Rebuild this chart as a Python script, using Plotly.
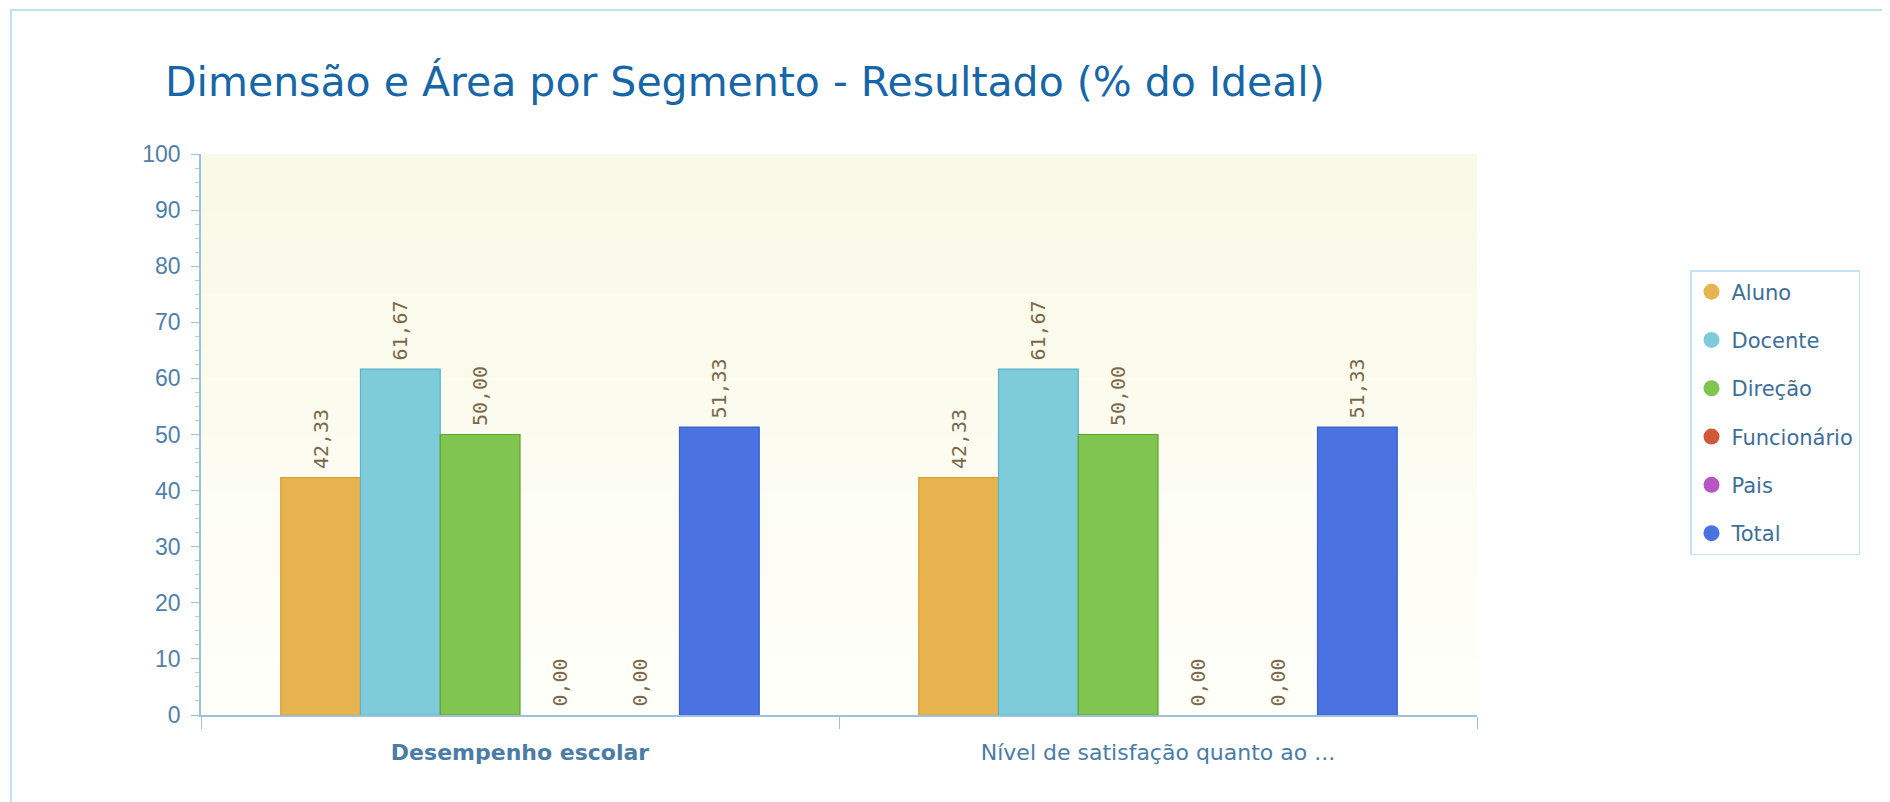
import plotly.graph_objects as go

categories = ["Desempenho escolar", "Nível de satisfação quanto ao ..."]
tick_labels = ["<b>Desempenho escolar</b>", "Nível de satisfação quanto ao ..."]
series_names = ["Aluno", "Docente", "Direção", "Funcionário", "Pais", "Total"]
aluno = [42.33, 42.33]
docente = [61.67, 61.67]
direcao = [50.00, 50.00]
funcionario = [0.00, 0.00]
pais = [0.00, 0.00]
total = [51.33, 51.33]
series_values = [aluno, docente, direcao, funcionario, pais, total]
y_ticks = [0, 10, 20, 30, 40, 50, 60, 70, 80, 90, 100]

fill_colors = ["#E8B450", "#7ECCD9", "#80C550", "#D2583A", "#B855C4", "#4A72E0"]
line_colors = ["#D9A132", "#5BB3C8", "#5DA630", "#B8462A", "#9C3EA8", "#3A60CF"]

W, H = 1890, 802
OX, OY = 8, 8  # page body margin offset
PL, PR, PT, PB = 201 - OX, 1477 - OX, 154 - OY, 715 - OY  # plot area in figure px
PW, PH = PR - PL, PB - PT

fig = go.Figure()

# background bands (styling)
n_bands = 20
top = (248, 249, 230)
bot = (255, 255, 250)
for i in range(n_bands):
    t = i / (n_bands - 1)
    c = tuple(int(round(top[k] + (bot[k] - top[k]) * t)) for k in range(3))
    y1 = 100 - i * 100 / n_bands
    y0 = y1 - 100 / n_bands
    fig.add_shape(type="rect", xref="paper", yref="y", x0=0, x1=1, y0=y0, y1=y1,
                  fillcolor="rgb(%d,%d,%d)" % c, line_width=0, layer="below")

pad = "<span style='font-size:9px'> </span>"
for name, vals, fc, lc in zip(series_names, series_values, fill_colors, line_colors):
    fig.add_trace(go.Bar(
        name=name, x=categories, y=vals,
        marker=dict(color=fc, line=dict(color=lc, width=[1.2 if v > 0 else 0 for v in vals])),
        text=[pad + f"{v:.2f}".replace(".", ",") for v in vals],
        textposition="outside", textangle=-90, cliponaxis=False,
        textfont=dict(family="DejaVu Sans Mono", size=20, color="#7A6848"),
        showlegend=False, hoverinfo="skip",
    ))

for i, (name, fc) in enumerate(zip(series_names, fill_colors)):
    fig.add_trace(go.Scatter(
        name=name, x=[None], y=[None], mode="markers",
        marker=dict(symbol="circle", size=18, color=fc),
        legendgroup=f"g{i}", showlegend=True,
    ))

fig.update_layout(
    width=W, height=H,
    paper_bgcolor="white", plot_bgcolor="white",
    margin=dict(l=PL, r=W - PR, t=PT, b=H - PB),
    barmode="group", bargap=0.25, bargroupgap=0,
    title=dict(text="Dimensão e Área por Segmento - Resultado (% do Ideal)",
               x=(165 - OX) / W, xanchor="left", xref="container",
               y=1 - (82 - OY) / H, yanchor="middle", yref="container",
               font=dict(family="DejaVu Sans", size=41, color="#1766A8")),
    legend=dict(xref="container", yref="container",
                x=(1690 - OX) / W, xanchor="left", y=1 - (270 - OY) / H, yanchor="top",
                bordercolor="#C3E2F6", borderwidth=1.5, bgcolor="white",
                font=dict(family="DejaVu Sans", size=21, color="#3E6E98"),
                tracegroupgap=18, itemsizing="trace"),
    font=dict(family="DejaVu Sans"),
)

fig.update_yaxes(range=[0, 100], tickvals=y_ticks, showgrid=False, zeroline=False,
                 showline=True, linecolor="#9DC1DB", linewidth=1.5,
                 ticks="outside", ticklen=8, tickcolor="#9DC1DB",
                 minor=dict(ticks="outside", ticklen=4, dtick=2.5, tickcolor="#B5D0E4"),
                 ticklabelstandoff=6,
                 tickfont=dict(family="Liberation Sans", size=23, color="#4F80AA"))
fig.update_xaxes(tickvals=categories, ticktext=tick_labels, showgrid=False,
                 showline=True, linecolor="#9DC1DB", linewidth=1.5,
                 ticks="outside", ticklen=12, tickcolor="#9DC1DB", tickson="boundaries",
                 ticklabelstandoff=17,
                 tickfont=dict(family="DejaVu Sans", size=22, color="#4A7CA6"))

# outer frame (styling)
fig.add_shape(type="rect", xref="paper", yref="paper",
              x0=(11 - OX - PL) / PW, x1=(1920 - PL) / PW,
              y0=(PB - 830) / PH, y1=(PB - (10 - OY)) / PH,
              line=dict(color="#BFE2F7", width=2), fillcolor="rgba(0,0,0,0)", layer="below")

fig.write_html("out.html")
